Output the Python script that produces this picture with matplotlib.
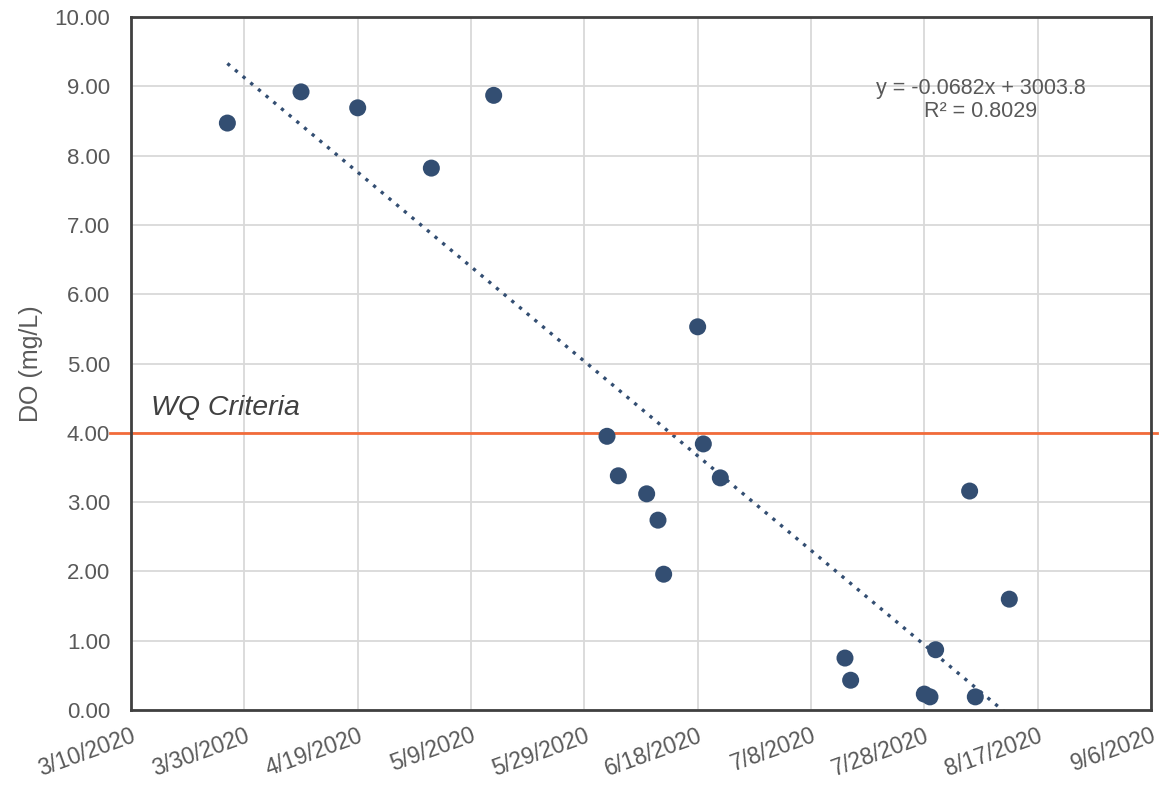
import matplotlib
matplotlib.use("Agg")
import matplotlib.pyplot as plt
import matplotlib.dates as mdates
import numpy as np
import datetime as dt

plt.rcParams['font.family'] = ['Liberation Sans', 'DejaVu Sans']

dates = ["2020-03-27", "2020-04-09", "2020-04-19", "2020-05-02", "2020-05-13",
         "2020-06-02", "2020-06-04", "2020-06-09", "2020-06-11", "2020-06-12",
         "2020-06-18", "2020-06-19", "2020-06-22", "2020-07-14", "2020-07-15",
         "2020-07-28", "2020-07-29", "2020-07-30", "2020-08-05", "2020-08-06",
         "2020-08-12"]
do_values = [8.47, 8.92, 8.69, 7.82, 8.87,
             3.95, 3.38, 3.12, 2.74, 1.96,
             5.53, 3.84, 3.35, 0.75, 0.43,
             0.23, 0.19, 0.87, 3.16, 0.19,
             1.60]
criteria = 4.0
tick_dates = ["2020-03-10", "2020-03-30", "2020-04-19", "2020-05-09", "2020-05-29",
              "2020-06-18", "2020-07-08", "2020-07-28", "2020-08-17", "2020-09-06"]
tick_labels = ["3/10/2020", "3/30/2020", "4/19/2020", "5/9/2020", "5/29/2020",
               "6/18/2020", "7/8/2020", "7/28/2020", "8/17/2020", "9/6/2020"]
eq_text = "y = -0.0682x + 3003.8\nR\u00b2 = 0.8029"

x = mdates.date2num([dt.datetime.fromisoformat(d) for d in dates])
xt = mdates.date2num([dt.datetime.fromisoformat(d) for d in tick_dates])
y = np.array(do_values)

fig = plt.figure(figsize=(11.68, 7.85), dpi=100)
ax = fig.add_axes([0.1122, 0.0955, 0.8732, 0.8828])

text_c = '#595959'
pt_c = '#334e72'

ax.set_xlim(xt[0], xt[-1])
ax.set_ylim(0, 10)
ax.set_xticks(xt)
ax.set_xticklabels(tick_labels, rotation=20, ha='right', rotation_mode='anchor')
ax.set_yticks(np.arange(0, 11, 1))
ax.set_yticklabels([f"{v:.2f}" for v in np.arange(0, 11, 1)])
ax.tick_params(axis='both', length=0, colors=text_c)
ax.tick_params(axis='x', labelsize=16.5, pad=10)
ax.tick_params(axis='y', labelsize=16, pad=15)
ax.grid(True, color='#d9d9d9', linewidth=1.3)
ax.set_axisbelow(True)
for s in ax.spines.values():
    s.set_color('#404040')
    s.set_linewidth(2)

ax.set_ylabel("DO (mg/L)", fontsize=18, color=text_c, labelpad=8)

# trendline
coef = np.polyfit(x, y, 1)
xx = np.array([x.min(), x.max()])
ax.plot(xx, np.polyval(coef, xx), linestyle=(0, (1, 2.0)), color=pt_c, linewidth=2.4, zorder=2)

ax.scatter(x, y, s=150, color=pt_c, zorder=3, edgecolors='none')

# criteria line
ax.plot([-0.021, 1.006], [criteria, criteria], transform=ax.get_yaxis_transform(),
        color='#f26b3a', linewidth=2, clip_on=False, zorder=2.5)
ax.text(0.02, 0.436, "WQ Criteria", transform=ax.transAxes, fontsize=20.5,
        style='italic', color='#404040', va='center', ha='left')

ax.text(0.833, 0.88, eq_text, transform=ax.transAxes, fontsize=15.5,
        color=text_c, ha='center', va='center', linespacing=1.15)

fig.savefig("out.png", dpi=100)
